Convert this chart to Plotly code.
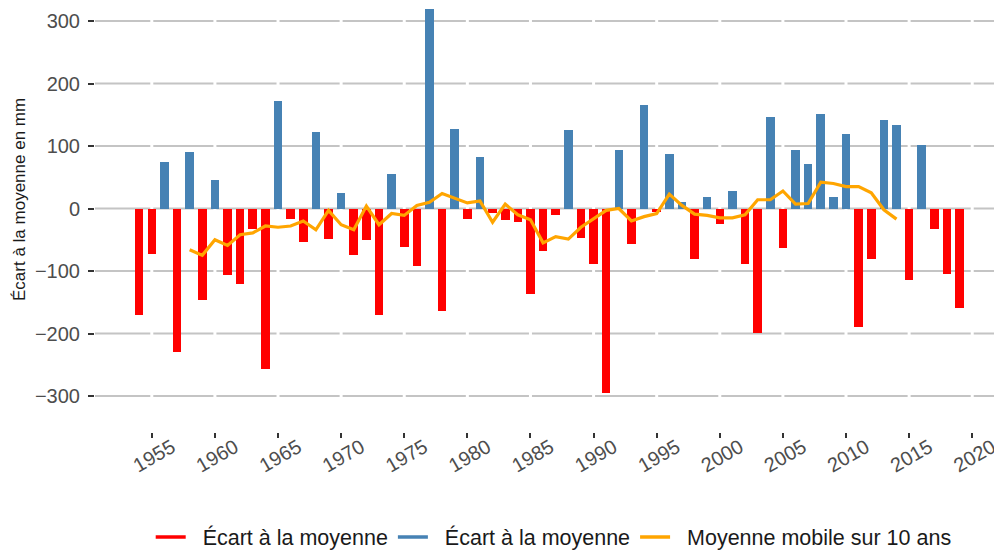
import plotly.graph_objects as go

years = list(range(1954, 2020))
ecart = [-170, -72, 74, -229, 91, -146, 46, -107, -120, -32,
         -256, 172, -17, -54, 123, -48, 25, -74, -50, -171,
         56, -61, -92, 320, -164, 128, -16, 83, -7, -19,
         -21, -137, -68, -10, 125, -47, -88, -295, 94, -56,
         166, -5, 87, 10, -81, 19, -24, 28, -88, -199,
         147, -63, 94, 71, 152, 19, 120, -189, -80, 141,
         133, -115, 101, -32, -105, -159]

ma_years = list(range(1958, 2015))
moyenne_mobile = [-66, -75, -50, -59, -42, -39, -28, -30, -28, -20,
                  -34, -3, -26, -34, 4, -26, -8, -11, 5, 10,
                  24, 16, 9, 12, -22, 7, -10, -18, -55, -45,
                  -49, -30, -16, -3, 0, -20, -13, -8, 23, 5,
                  -9, -11, -15, -15, -10, 14, 14, 28, 7, 8,
                  42, 40, 35, 35, 25, -2, -17]

x_ticks = list(range(1955, 2021, 5))
y_ticks = [-300, -200, -100, 0, 100, 200, 300]
y_ticktext = [str(v).replace("-", "\u2212") for v in y_ticks]

legend_labels = ["Écart à la moyenne", "Écart à la moyenne", "Moyenne mobile sur 10 ans"]
RED, BLUE, ORANGE = "#FF0000", "#4682B4", "#FFA500"

neg_x = [y for y, v in zip(years, ecart) if v < 0]
neg_y = [v for v in ecart if v < 0]
pos_x = [y for y, v in zip(years, ecart) if v >= 0]
pos_y = [v for v in ecart if v >= 0]

fig = go.Figure()
fig.add_trace(go.Bar(x=neg_x, y=neg_y, marker=dict(color=RED, line=dict(width=0)),
                     width=0.68, showlegend=False, name=legend_labels[0]))
fig.add_trace(go.Bar(x=pos_x, y=pos_y, marker=dict(color=BLUE, line=dict(width=0)),
                     width=0.68, showlegend=False, name=legend_labels[1]))
fig.add_trace(go.Scatter(x=ma_years, y=moyenne_mobile, mode="lines",
                         line=dict(color=ORANGE, width=3.2), showlegend=False,
                         name=legend_labels[2]))
# legend entries (line symbols); non-breaking spaces widen the symbol-text gap
for lab, col in zip(legend_labels, [RED, BLUE, ORANGE]):
    fig.add_trace(go.Scatter(x=[None], y=[None], mode="lines",
                             line=dict(color=col, width=3.5),
                             name="\u00a0\u00a0" + lab))

# horizontal grid (grey) then white vertical breaks at the x ticks, under the bars
shapes = [dict(type="line", xref="paper", yref="y", x0=0, x1=1, y0=t, y1=t,
               line=dict(color="#c4c4c4", width=2), layer="below") for t in y_ticks]
shapes += [dict(type="line", xref="x", yref="paper", x0=t, x1=t, y0=0, y1=1,
                line=dict(color="white", width=3), layer="below") for t in x_ticks]

# the page body has an 8px margin, so the figure is laid out 8px up/left
fig.update_layout(
    width=994, height=544,
    margin=dict(l=87, r=2, t=1, b=120, autoexpand=False),
    paper_bgcolor="white", plot_bgcolor="white",
    font=dict(family="Liberation Sans, Arial, sans-serif", size=20, color="#222"),
    bargap=0, barmode="overlay",
    shapes=shapes,
    legend=dict(orientation="h", xref="container", x=0.549, xanchor="center",
                yref="container", y=1 - 529 / 544, yanchor="middle",
                font=dict(size=21.5, color="#1a1a1a"), bgcolor="rgba(0,0,0,0)",
                itemwidth=30, tracegroupgap=0),
    annotations=[dict(text="Écart à la moyenne en mm", textangle=-90,
                      xref="paper", yref="paper", x=(19 - 95) / 905, y=(432 - 200) / 423,
                      xanchor="center", yanchor="middle", showarrow=False,
                      font=dict(size=17, color="#1a1a1a"))],
)
fig.update_xaxes(range=[1950.5, 2022.2], tickvals=x_ticks, showgrid=False, zeroline=False,
                 ticks="outside", ticklen=5, tickwidth=1.5, tickcolor="#333",
                 tickangle=-30, tickfont=dict(size=20, color="#4d4d4d"),
                 ticklabelshift=20, ticklabelstandoff=-10, showline=False)
fig.update_yaxes(range=[-357.6, 319.2], tickvals=y_ticks, ticktext=y_ticktext,
                 showgrid=False, zeroline=False,
                 ticks="outside", ticklen=6, tickwidth=1.5, tickcolor="#333",
                 tickfont=dict(size=20, color="#4d4d4d"), ticklabelstandoff=4,
                 showline=False)

fig.write_html("out.html")
